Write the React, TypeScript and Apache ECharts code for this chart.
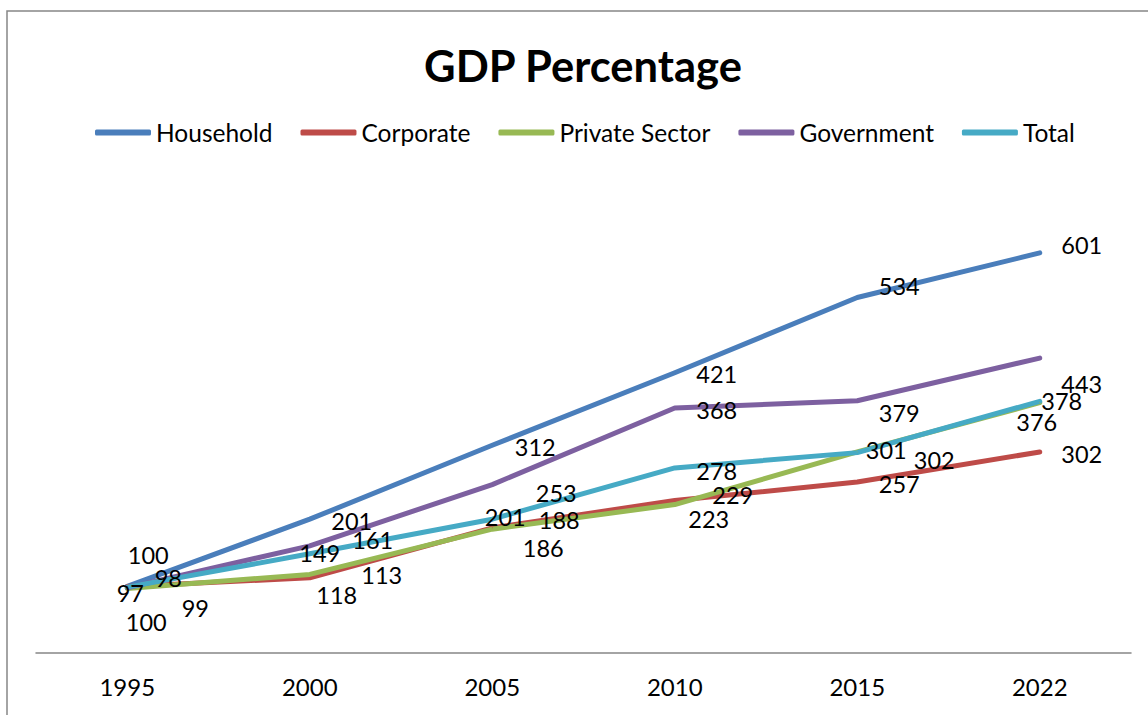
import React, { useEffect, useRef } from "react";
import * as echarts from "echarts";

const years = ["1995", "2000", "2005", "2010", "2015", "2022"];
const household = [100, 201, 312, 421, 534, 601];
const corporate = [100, 113, 188, 229, 257, 302];
const privateSector = [97, 118, 186, 223, 302, 376];
const government = [98, 161, 253, 368, 379, 443];
const total = [99, 149, 201, 278, 301, 378];

// label offsets (dx, dy) relative to each point, as placed in the reference
const householdLabelOffsets = [[21, -31], [42, 2], [43, 2], [42, 1], [42, -12], [42, -8]];
const corporateLabelOffsets = [[19, 36], [72, -3], [67, -8], [58, -6], [42, 2], [42, 2]];
const privateLabelOffsets = [[3, 5], [27, 21], [51, 19], [34, 14], [77, 8], [-3, 19]];
const governmentLabelOffsets = [[41, -10], [63, -6], [64, 8], [42, 2], [42, 12], [42, 26]];
const totalLabelOffsets = [[68, 21], [10, -1], [13, -2], [42, 3], [29, -3], [22, 0]];

const FONT = "Lato";

function makeSeries(name: string, values: number[], offsets: number[][], color: string) {
  return {
    name,
    type: "line",
    symbol: "circle",
    symbolSize: 1,
    showSymbol: true,
    itemStyle: { color },
    lineStyle: { color, width: 5, cap: "round", join: "round" },
    label: {
      show: true,
      position: "inside",
      color: "#000",
      fontFamily: FONT,
      fontSize: 23.5,
    },
    emphasis: { disabled: true },
    data: values.map((v, i) => ({ value: v, label: { offset: offsets[i] } })),
  };
}

export default function App() {
  const ref = useRef<HTMLDivElement>(null);
  useEffect(() => {
    if (!ref.current) return;
    const chart = echarts.init(ref.current, null, { renderer: "svg" });
    chart.setOption({
      animation: false,
      backgroundColor: "#fff",
      title: {
        text: "GDP Percentage",
        left: 578,
        textAlign: "center",
        top: 38,
        textStyle: { fontFamily: FONT, fontWeight: "bold", fontSize: 43.5, color: "#000" },
      },
      legend: {
        left: 95,
        top: 120,
        padding: 0,
        icon: "roundRect",
        itemWidth: 56,
        itemHeight: 6,
        itemGap: 28,
        textStyle: { fontFamily: FONT, fontSize: 24.5, color: "#000" },
        data: ["Household", "Corporate", "Private Sector", "Government", "Total"],
      },
      grid: { left: 36, right: 17, top: 187, bottom: 62 },
      xAxis: {
        type: "category",
        data: years,
        boundaryGap: true,
        axisLine: { lineStyle: { color: "#868686", width: 1.5 } },
        axisTick: { show: false },
        axisLabel: { margin: 21, fontFamily: FONT, fontSize: 24, color: "#000" },
      },
      yAxis: {
        type: "value",
        min: 0,
        max: 700,
        interval: 100,
        show: false,
        splitLine: { show: false },
      },
      graphic: [
        {
          type: "rect",
          shape: { x: 7, y: 11, width: 1400, height: 1000 },
          style: { fill: "none", stroke: "#868686", lineWidth: 1.5 },
          silent: true,
        },
      ],
      series: [
        makeSeries("Household", household, householdLabelOffsets, "#4A7EBB"),
        makeSeries("Corporate", corporate, corporateLabelOffsets, "#BE4B48"),
        makeSeries("Private Sector", privateSector, privateLabelOffsets, "#98B954"),
        makeSeries("Government", government, governmentLabelOffsets, "#7D60A0"),
        makeSeries("Total", total, totalLabelOffsets, "#46AAC5"),
      ],
    });
    return () => chart.dispose();
  }, []);
  return (
    <div
      ref={ref}
      style={{ position: "fixed", left: 0, top: 0, width: 1148, height: 715, background: "#fff" }}
    />
  );
}
